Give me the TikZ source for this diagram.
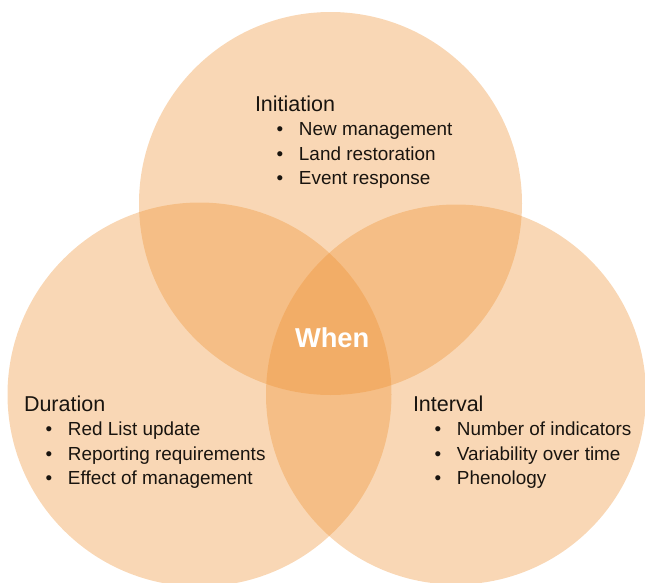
\documentclass[tikz,border=0pt]{standalone}
\usepackage{fontspec}
\setmainfont{Liberation Sans}
\definecolor{venn}{RGB}{238,145,50}
\definecolor{txt}{RGB}{25,20,15}
\tikzset{
  set/.style={fill=venn, fill opacity=0.36},
  head/.style={anchor=base west, inner sep=0pt, outer sep=0pt, text=txt, font=\fontsize{21.5}{24}\selectfont},
  item/.style={anchor=base west, inner sep=0pt, outer sep=0pt, text=txt, font=\fontsize{18.9}{22}\selectfont},
  center/.style={anchor=base west, inner sep=0pt, outer sep=0pt, text=white, font=\fontsize{27.3}{30}\selectfont\bfseries}
}
\newcommand{\bul}{\makebox[19pt][l]{\hspace{-3.3pt}•}}
\begin{document}
\begin{tikzpicture}[x=1pt,y=-1pt]
\useasboundingbox (0,0) rectangle (645,582);
\clip (0,0) rectangle (645,582);
\path[set] (330.5,203.5) circle (191.5);
\path[set] (199.5,394.5) circle (192);
\path[set] (456,394.5) circle (190);
% Initiation
\node[head] (ini) at (255,111) {Initiation};
\node[item] (ini1) at (280,135.5) {\bul New management};
\node[item] (ini2) at (280,160) {\bul Land restoration};
\node[item] (ini3) at (280,184.5) {\bul Event response};
% Duration
\node[head] (dur) at (24,411) {Duration};
\node[item] (dur1) at (49,435.5) {\bul Red List update};
\node[item] (dur2) at (49,460) {\bul Reporting requirements};
\node[item] (dur3) at (49,484.5) {\bul Effect of management};
% Interval
\node[head] (int) at (413,411) {Interval};
\node[item] (int1) at (438,435.5) {\bul Number of indicators};
\node[item] (int2) at (438,460) {\bul Variability over time};
\node[item] (int3) at (438,484.5) {\bul Phenology};
% center
\node[center] (when) at (295,347) {When};
\end{tikzpicture}
\end{document}
